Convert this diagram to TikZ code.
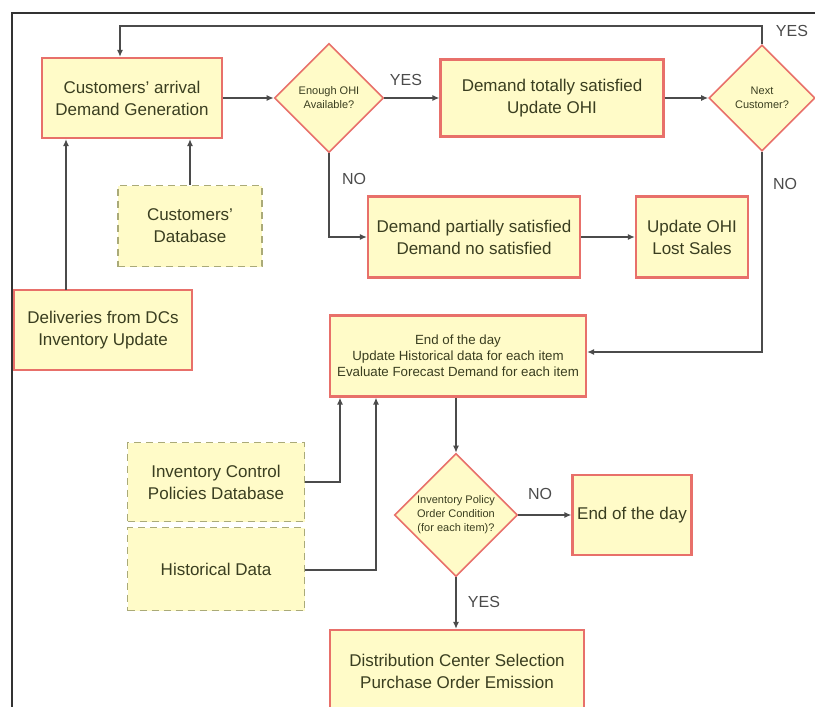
\documentclass[tikz,border=0pt]{standalone}
\usepackage{fontspec}
\setmainfont{Liberation Sans}
\usetikzlibrary{shapes.geometric,arrows.meta}
\definecolor{boxfill}{RGB}{255,251,200}
\definecolor{boxline}{RGB}{232,112,106}
\definecolor{dbline}{RGB}{170,170,120}
\definecolor{txt}{RGB}{58,62,32}
\definecolor{wire}{RGB}{75,75,75}
\tikzset{
  procbox/.style={draw=boxline, line width=2.2pt, fill=boxfill, text=txt, align=center, inner sep=0pt, font=\fontsize{17}{22}\selectfont},
  dbbox/.style={draw=dbline, dashed, dash pattern=on 7pt off 5pt, line width=1.4pt, fill=boxfill, text=txt, align=center, inner sep=0pt, font=\fontsize{17}{22}\selectfont},
  decision/.style={diamond, aspect=1, draw=boxline, line width=1.6pt, fill=boxfill, text=txt, align=center, inner sep=0pt, font=\fontsize{11}{14}\selectfont},
  flow/.style={draw=wire, line width=1.3pt, -{Latex[length=7pt,width=6pt]}},
  lbl/.style={text=wire, font=\fontsize{16}{18}\selectfont}
}
\begin{document}
\begin{tikzpicture}[x=1pt,y=-1pt]
\useasboundingbox (0,0) rectangle (815,707);
\clip (0,0) rectangle (815,707);
% outer frame
\draw[black!80, line width=1.6pt] (12,707) -- (12,13) -- (815,13);

% process boxes
\node[procbox, minimum width=180pt, minimum height=80pt] (arrival) at (132,98) {Customers' arrival\\Demand Generation};
\node[procbox, minimum width=223pt, minimum height=77pt] (total) at (552,98) {Demand totally satisfied\\Update OHI};
\node[procbox, minimum width=178pt, minimum height=80pt] (deliv) at (103,330) {Deliveries from DCs\\Inventory Update};
\node[procbox, minimum width=212pt, minimum height=81pt] (partial) at (474,237) {Demand partially satisfied\\Demand no satisfied};
\node[procbox, minimum width=112pt, minimum height=81pt] (lost) at (692,237) {Update OHI\\Lost Sales};
\node[procbox, minimum width=256pt, minimum height=81pt, font=\fontsize{13.3}{16}\selectfont] (eod) at (458,356) {End of the day\\Update Historical data for each item\\Evaluate Forecast Demand for each item};
\node[procbox, minimum width=119pt, minimum height=80pt] (eod2) at (632,515) {End of the day};
\node[procbox, minimum width=254pt, minimum height=82pt] (dcsel) at (457,671) {Distribution Center Selection\\Purchase Order Emission};

% databases
\node[dbbox, minimum width=144pt, minimum height=81pt] (custdb) at (190,226) {Customers'\\Database};
\node[dbbox, minimum width=177pt, minimum height=79pt] (icpdb) at (216,482) {Inventory Control\\Policies Database};
\node[dbbox, minimum width=177pt, minimum height=83pt] (histdb) at (216,569) {Historical Data};

% decisions
\node[decision, minimum size=109pt] (ohi) at (329,98) {Enough OHI\\Available?};
\node[decision, minimum size=106pt] (next) at (762,98) {Next\\Customer?};
\node[decision, minimum size=123pt] (policy) at (456,515) {Inventory Policy\\Order Condition\\(for each item)?};

% connectors
\coordinate (loopR) at (762,26);
\coordinate (loopL) at (120,26);
\draw[flow] (next.north) -- (loopR) -- (loopL) -- (arrival.north -| loopL);
\draw[flow] (arrival.east) -- (ohi.west);
\draw[flow] (ohi.east) -- (total.west);
\draw[flow] (total.east) -- (next.west);
\draw[flow] (ohi.south) |- (partial.west);
\draw[flow] (partial.east) -- (lost.west);
\coordinate (nextDown) at (762,352);
\draw[flow] (next.south) -- (nextDown) -- (eod.east |- nextDown);
\draw[flow] (custdb.north) -- (arrival.south -| custdb.north);
\coordinate (delivTop) at (66,290);
\draw[flow] (delivTop) -- (arrival.south -| delivTop);
\coordinate (icpUp) at (340,482);
\draw[flow] (icpdb.east) -- (icpUp) -- (eod.south -| icpUp);
\coordinate (histUp) at (376,570);
\draw[flow] (histdb.east |- histUp) -- (histUp) -- (eod.south -| histUp);
\draw[flow] (eod.south -| policy.north) -- (policy.north);
\draw[flow] (policy.east) -- (eod2.west);
\draw[flow] (policy.south) -- (dcsel.north -| policy.south);

% branch labels
\node[lbl] (yes1) at (406,80) {YES};
\node[lbl] (yes2) at (792,31) {YES};
\node[lbl] (no1) at (354,179) {NO};
\node[lbl] (no2) at (785,184) {NO};
\node[lbl] (no3) at (540,494) {NO};
\node[lbl] (yes3) at (484,602) {YES};
\end{tikzpicture}
\end{document}
